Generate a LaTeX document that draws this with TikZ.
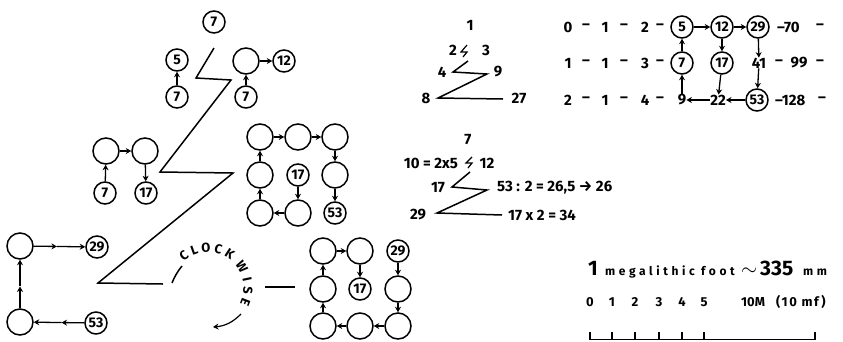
\documentclass[tikz,border=0pt]{standalone}
\usepackage{fontspec}
\setmainfont{Fira Sans}
\usetikzlibrary{arrows.meta,calc}
\begin{document}
\begin{tikzpicture}[x=1pt,y=-1pt,
  every node/.style={inner sep=0pt, font=\fontsize{14}{14}\selectfont\bfseries},
  ec/.style={draw,circle,line width=1.5pt,minimum size=26pt},
  lc/.style={draw,circle,line width=1.5pt,minimum size=22pt},
  arr/.style={line width=1.3pt,-{Stealth[length=5.5pt,width=6pt]}},
  ln/.style={line width=1.5pt},
  txt/.style={font=\fontsize{15}{15}\selectfont\bfseries},
  sm/.style={font=\fontsize{13}{13}\selectfont\bfseries},
  big/.style={anchor=base west,font=\fontsize{21}{21}\selectfont\bfseries},
  small/.style={anchor=base west,font=\fontsize{12}{12}\selectfont\bfseries\addfontfeatures{LetterSpace=30}},
  smallw/.style={anchor=base west,font=\fontsize{12}{12}\selectfont\bfseries\addfontfeatures{LetterSpace=30}},
]
\useasboundingbox (0,0) rectangle (843,341);

% ---------- top cluster ----------
\node[lc] (t7) at (214,22) {7};
\node[lc] (t5) at (177,60) {5};
\node[lc] (t7a) at (177,97) {7};
\node[ec] (te) at (246,61) {};
\node[lc] (t12) at (284,61) {12};
\node[lc] (t7b) at (246,97) {7};
\draw[arr] (t7a) -- (t5);
\draw[arr] (te) -- (t12);
\draw[arr] (t7b) -- (te);

% ---------- main zigzag ----------
\draw[ln] (214,48) -- (196,78) -- (231,80) -- (160,172) -- (233,173) -- (98,283) -- (163,284);

% ---------- second cluster ----------
\node[ec] (ma) at (106,151) {};
\node[ec] (mb) at (145,151) {};
\node[lc] (m7) at (105,193) {7};
\node[lc] (m17) at (146,193) {17};
\draw[arr] (ma) -- (mb);
\draw[arr] (m7) -- (ma);
\draw[arr] (mb) -- (m17);

% ---------- third cluster ----------
\node[ec] (c11) at (260,137) {};
\node[ec] (c12) at (298,137) {};
\node[ec] (c13) at (335,137) {};
\node[ec] (c21) at (260,175) {};
\node[lc] (c22) at (298,175) {17};
\node[ec] (c23) at (335,175) {};
\node[ec] (c31) at (260,213) {};
\node[ec] (c32) at (298,213) {};
\node[lc] (c33) at (335,213) {53};
\draw[arr] (c11) -- (c12);
\draw[arr] (c12) -- (c13);
\draw[arr] (c13) -- (c23);
\draw[arr] (c23) -- (c33);
\draw[arr] (c22) -- (c32);
\draw[arr] (c32) -- (c31);
\draw[arr] (c31) -- (c21);
\draw[arr] (c21) -- (c11);

% ---------- fourth cluster ----------
\node[ec] (d11) at (323,251) {};
\node[ec] (d12) at (360,251) {};
\node[lc] (d13) at (398,251) {29};
\node[ec] (d21) at (323,289) {};
\node[lc] (d22) at (360,289) {17};
\node[ec] (d23) at (398,289) {};
\node[ec] (d31) at (323,326) {};
\node[ec] (d32) at (360,326) {};
\node[ec] (d33) at (398,326) {};
\draw[arr] (d11) -- (d12);
\draw[arr] (d12) -- (d22);
\draw[arr] (d13) -- (d23);
\draw[arr] (d23) -- (d33);
\draw[arr] (d33) -- (d32);
\draw[arr] (d32) -- (d31);
\draw[arr] (d31) -- (d21);
\draw[arr] (d21) -- (d11);

% ---------- bottom-left cluster ----------
\node[ec] (a1) at (20,246) {};
\node[lc] (a29) at (97,247) {29};
\node[ec] (a2) at (20,322) {};
\node[lc] (a53) at (96,323) {53};
\coordinate (am1) at ($(a1.east)!0.45!(a29.west)$);
\coordinate (am2) at ($(a53.west)!0.45!(a2.east)$);
\coordinate (am3) at ($(a2.north)!0.45!(a1.south)$);
\draw[arr] (a1) -- (am1);
\draw[arr] (am1) -- (a29);
\draw[arr] (a53) -- (am2);
\draw[arr] (am2) -- (a2);
\draw[arr] (a2) -- (am3);
\draw[arr] (am3) -- (a1);

% ---------- clockwise ----------
\coordinate (cw) at (208,288);
\draw[ln] (172,283) to[bend left=8] (182,266);
\foreach \l/\a in {C/127,L/110,O/93,C/75,K/57,W/32,I/12,S/-4,E/-21}
  \node[font=\fontsize{13}{13}\selectfont\bfseries, rotate=\a-90] at ([shift={(-\a:40)}]cw) {\l};
\draw[line width=1.2pt,-{Stealth[length=5.5pt,width=6pt]}] (241,314) to[bend left=20] (213,327);
\draw[ln] (265,287) -- (295,287);

% ---------- text group 1 ----------
\node[txt] (g1) at (470,25) {1};
\node[txt] (g2) at (453,50) {2};
\node[txt] (g3) at (486,50) {3};
\node[txt] (g4) at (442,72) {4};
\node[txt] (g9) at (498,72) {9};
\node[txt] (g8) at (426,98) {8};
\node[txt] (g27) at (519,98) {27};
\draw[line width=1.2pt] (467,45) -- (461,52) -- (467,52) -- (463,57);
\draw[ln] (468,61) -- (453,72) -- (487,74) -- (438,98) -- (503,99);

% ---------- text group 2 ----------
\node[txt] (h7) at (468,140) {7};
\node[txt,anchor=east] (h10) at (458,163) {10 = 2x5};
\node[txt] (h12) at (487,163) {12};
\node[txt] (h17) at (438,188) {17};
\node[txt,anchor=west] (h53) at (497,188) {53 : 2 = 26,5 → 26};
\node[txt] (h29) at (418,215) {29};
\node[txt,anchor=west] (h34) at (508,215) {17 x 2 = 34};
\draw[line width=1.2pt] (472,157) -- (466,163) -- (472,163) -- (468,168);
\draw[ln] (470,172) -- (452,187) -- (487,190) -- (437,213) -- (502,215);

% ---------- number table ----------
\foreach \y/\a/\b/\c in {27/0/1/2, 63/1/1/3, 100/2/1/4} {
  \node[txt] at (568,\y) {\a};
  \node[txt] at (586,\y) {–};
  \node[txt] at (605,\y) {\b};
  \node[txt] at (624,\y) {–};
  \node[txt] at (645,\y) {\c};
  \node[txt] at (660,\y) {–};
}
\node[lc] (r5) at (682,27) {5};
\node[lc] (r12) at (722,27) {12};
\node[lc] (r29) at (758,27) {29};
\node[txt,anchor=west] (r70) at (777,27) {–70};
\node[txt] (r70d) at (820,27) {–};
\node[lc] (r7) at (682,63) {7};
\node[lc] (r17) at (722,63) {17};
\node[txt] (r41) at (759,63) {41};
\node[txt] (r41d) at (779,63) {–};
\node[txt] (r99) at (799,63) {99};
\node[txt] (r99d) at (820,63) {–};
\node[txt] (r9) at (682,100) {9};
\node[txt] (r22) at (718,100) {22};
\node[lc] (r53) at (757,100) {53};
\node[txt,anchor=west] (r128) at (775,100) {–128};
\node[txt] (r128d) at (822,100) {–};
\draw[arr] (r5) -- (r12);
\draw[arr] (r12) -- (r29);
\draw[arr] (r7) -- (r5);
\draw[arr] (r9) -- (r7);
\draw[arr] (r12) -- (r17);
\draw[arr] (r17) -- (r22);
\draw[arr] (r29) -- (r41);
\draw[arr] (r41) -- (r53);
\draw[arr] (r22) -- (r9);
\draw[arr] (r53) -- (r22);

% ---------- megalithic foot ----------
\node[big] (mf1) at (588,275.5) {1};
\node[small] (mfw) at (605,275) {megalithic foot};
\node[big] (mft) at (741,275.5) {$\sim$};
\node[big] (mf335) at (760,275.5) {335};
\node[smallw] (mfmm) at (803,275) {mm};
\foreach \x/\n in {590/0,612/1,635/2,659/3,682/4,704/5}
  \node[sm] (s\n) at (\x,302) {\n};
\node[sm,anchor=west] (s10m) at (741,302) {10M};
\node[sm,anchor=west,font=\fontsize{13}{13}\selectfont\bfseries\addfontfeatures{LetterSpace=12}] (s10) at (776,302) {(10 mf)};
\draw[line width=1.4pt] (590,332) -- (590,339.5) -- (815,339.5) -- (815,332);
\foreach \x in {612,635,659,682,704}
  \draw[line width=1.4pt] (\x,332) -- (\x,339.5);
\end{tikzpicture}
\end{document}
